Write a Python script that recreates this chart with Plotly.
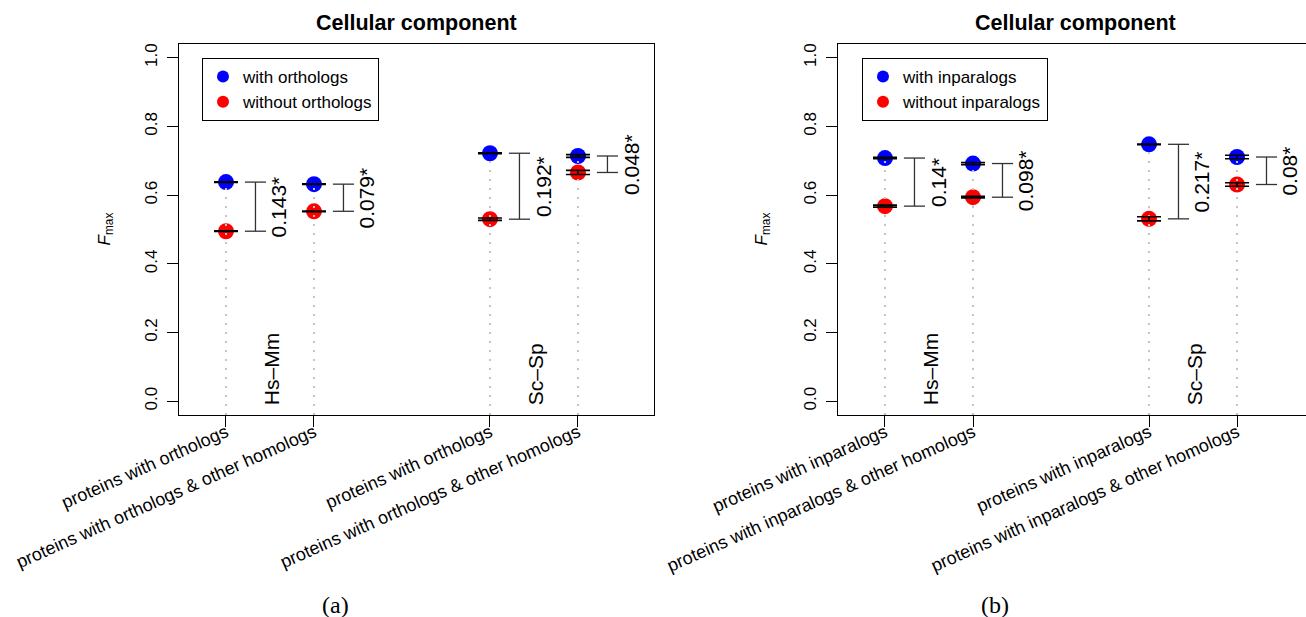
import plotly.graph_objects as go

# group positions on the x axis (two species pairs, two protein sets each)
positions = [1, 2, 4, 5]
pair_names = ["Hs–Mm", "Sc–Sp"]
pair_label_x = [1.52, 4.52]

# (a) orthologs
ticks_a = ["proteins with orthologs", "proteins with orthologs & other homologs",
           "proteins with orthologs", "proteins with orthologs & other homologs"]
legend_a = ["with orthologs", "without orthologs"]
with_a = [0.638, 0.632, 0.722, 0.714]
without_a = [0.495, 0.553, 0.530, 0.666]
ci_with_a = [0.001, 0.001, 0.001, 0.004]
ci_without_a = [0.001, 0.001, 0.0035, 0.006]

# (b) inparalogs
ticks_b = ["proteins with inparalogs", "proteins with inparalogs & other homologs",
           "proteins with inparalogs", "proteins with inparalogs & other homologs"]
legend_b = ["with inparalogs", "without inparalogs"]
with_b = [0.708, 0.692, 0.748, 0.711]
without_b = [0.568, 0.594, 0.531, 0.631]
ci_with_b = [0.002, 0.003, 0.001, 0.005]
ci_without_b = [0.003, 0.0025, 0.006, 0.005]

y_ticks = [0.0, 0.2, 0.4, 0.6, 0.8, 1.0]
y_range = [-0.04, 1.04]

W, H = 1306, 617
SANS = "Liberation Sans, Arial, Helvetica, sans-serif"
SERIF = "Liberation Serif, Times New Roman, serif"

fig = go.Figure()


def px_x(p):
    return p / W


def px_y(p):
    return 1 - p / H


def add_panel(xref, yref, legend, names, hi, lo, ci_hi, ci_lo):
    # dotted guides from the bottom of the panel up to the upper point
    gx, gy = [], []
    for x, v in zip(positions, hi):
        gx += [x, x, None]
        gy += [y_range[0], v, None]

    fig.add_trace(go.Scatter(
        x=positions, y=hi, mode="markers", xaxis=xref, yaxis=yref,
        marker=dict(color="#0000ff", size=16), name=names[0],
        legend=legend, showlegend=True, hoverinfo="skip"))
    fig.add_trace(go.Scatter(
        x=positions, y=lo, mode="markers", xaxis=xref, yaxis=yref,
        marker=dict(color="#ff0000", size=16), name=names[1],
        legend=legend, showlegend=True, hoverinfo="skip"))
    fig.add_trace(go.Scatter(
        x=gx, y=gy, mode="lines", xaxis=xref, yaxis=yref,
        line=dict(color="#c4c4c4", width=2, dash="2px,7px"),
        showlegend=False, hoverinfo="skip"))
    # confidence intervals drawn over the points
    for vals, ci in ((hi, ci_hi), (lo, ci_lo)):
        fig.add_trace(go.Scatter(
            x=positions, y=vals, mode="markers", xaxis=xref, yaxis=yref,
            marker=dict(size=1, opacity=0),
            error_y=dict(type="data", array=ci, visible=True, color="black",
                         thickness=1.6, width=12),
            showlegend=False, hoverinfo="skip"))

    # difference brackets
    bx, by = [], []
    for x, a, b in zip(positions, hi, lo):
        bx += [x + 0.215, x + 0.455, None, x + 0.335, x + 0.335, None,
               x + 0.215, x + 0.455, None]
        by += [a, a, None, a, b, None, b, b, None]
    fig.add_trace(go.Scatter(
        x=bx, y=by, mode="lines", xaxis=xref, yaxis=yref,
        line=dict(color="#333333", width=1.3),
        showlegend=False, hoverinfo="skip"))

    for x, a, b in zip(positions, hi, lo):
        d = round(a - b, 3)
        fig.add_annotation(
            x=x + 0.60, y=(a + b) / 2, xref=xref, yref=yref,
            text=f"{d:g}*", textangle=-90, showarrow=False,
            xanchor="center", yanchor="middle",
            font=dict(family=SANS, size=21, color="black"))
    for name, x in zip(pair_names, pair_label_x):
        fig.add_annotation(
            x=x, y=-0.018, xref=xref, yref=yref, text=name, textangle=-90,
            showarrow=False, xanchor="center", yanchor="bottom",
            font=dict(family=SANS, size=21, color="black"))


add_panel("x", "y", "legend", legend_a, with_a, without_a, ci_with_a, ci_without_a)
add_panel("x2", "y2", "legend2", legend_b, with_b, without_b, ci_with_b, ci_without_b)

ydom = [px_y(415), px_y(44)]
xaxis_common = dict(
    tickvals=positions, tickangle=-24, ticks="outside", ticklen=11,
    tickcolor="black", tickwidth=1, showline=True, linecolor="black",
    linewidth=1, showgrid=False, zeroline=False, mirror=True, automargin=False,
    ticklabelstandoff=-12,
    tickfont=dict(family=SANS, size=18, color="black"))
yaxis_common = dict(
    range=y_range, tickvals=y_ticks, ticktext=[f"{t:.1f}" for t in y_ticks],
    tickangle=-90, ticks="outside", ticklen=11, tickcolor="black",
    tickwidth=1, showline=True, linecolor="black", linewidth=1,
    showgrid=False, zeroline=False, domain=ydom, automargin=False,
    ticklabelstandoff=3,
    tickfont=dict(family=SANS, size=17, color="black"))

fig.update_layout(
    width=W, height=H, margin=dict(l=0, r=0, t=0, b=0, autoexpand=False),
    plot_bgcolor="white", paper_bgcolor="white",
    xaxis=dict(xaxis_common, domain=[px_x(179), px_x(654)], range=[0.466, 5.864],
               ticktext=ticks_a, anchor="y"),
    yaxis=dict(yaxis_common, anchor="x", mirror=True),
    xaxis2=dict(xaxis_common, domain=[px_x(838), 1.0], range=[0.466, 5.784],
                ticktext=ticks_b, anchor="y2"),
    yaxis2=dict(yaxis_common, anchor="x2", mirror=False),
    legend=dict(x=px_x(202), y=px_y(58), xanchor="left", yanchor="top",
                bordercolor="black", borderwidth=1, bgcolor="white",
                itemsizing="constant", tracegroupgap=0,
                font=dict(family=SANS, size=17, color="black")),
    legend2=dict(x=px_x(862), y=px_y(58), xanchor="left", yanchor="top",
                 bordercolor="black", borderwidth=1, bgcolor="white",
                 itemsizing="constant", tracegroupgap=0,
                 font=dict(family=SANS, size=17, color="black")),
    showlegend=True,
)

# panel titles, axis titles and sub-figure captions
for cx, fx, cap, capx in ((416.5, 105, "(a)", 335), (1075.5, 762, "(b)", 995)):
    fig.add_annotation(x=px_x(cx), y=px_y(23), xref="paper", yref="paper",
                       text="<b>Cellular component</b>", showarrow=False,
                       xanchor="center", yanchor="middle",
                       font=dict(family=SANS, size=21.5, color="black"))
    fig.add_annotation(x=px_x(fx), y=px_y(229.5), xref="paper", yref="paper",
                       text="<i>F</i><sub>max</sub>", textangle=-90, showarrow=False,
                       xanchor="center", yanchor="middle",
                       font=dict(family=SANS, size=17, color="black"))
    fig.add_annotation(x=px_x(capx), y=px_y(605), xref="paper", yref="paper",
                       text=cap, showarrow=False, xanchor="center", yanchor="middle",
                       font=dict(family=SERIF, size=24, color="black"))

fig.write_html("out.html")
